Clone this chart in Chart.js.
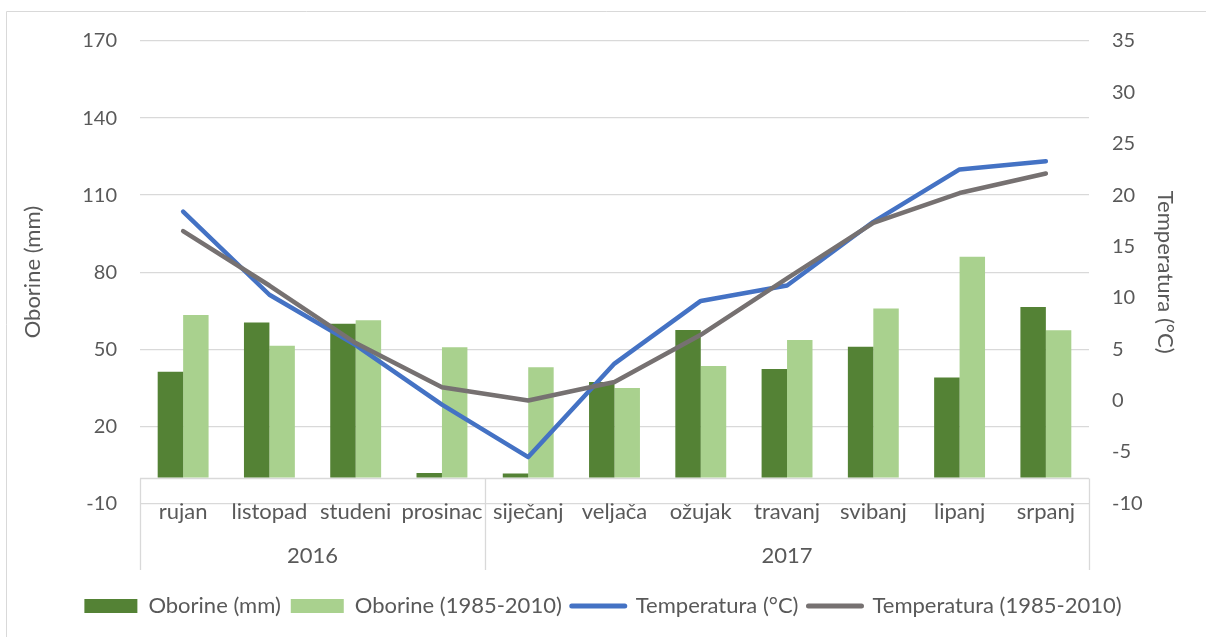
<!DOCTYPE html>
<html><head><meta charset="utf-8">
<script src="https://cdn.jsdelivr.net/npm/chart.js@4"></script>
<style>html,body{margin:0;padding:0;background:#fff;overflow:hidden}#wrap{width:1206px;height:637px;position:relative}</style>
</head><body><div id="wrap"><canvas id="c"></canvas></div>
<script>
const months = ['rujan','listopad','studeni','prosinac','siječanj','veljača','ožujak','travanj','svibanj','lipanj','srpanj'];
const yearLabels = ['2016','2017'];
const yearSpans = [4, 7];
const oborine = [41.2, 60.4, 59.9, 1.8, 1.6, 37.2, 57.5, 42.3, 51.0, 39.0, 66.4];
const oborineAvg = [63.3, 51.3, 61.3, 50.8, 43.0, 34.9, 43.5, 53.6, 65.8, 86.0, 57.4];
const temp = [18.4, 10.3, 5.4, -0.4, -5.5, 3.6, 9.7, 11.2, 17.4, 22.5, 23.3];
const tempAvg = [16.5, 11.2, 5.6, 1.3, 0.0, 1.8, 6.4, 11.9, 17.3, 20.2, 22.1];
const leftAxisRange = [-10, 170, 30];
const rightAxisRange = [-10, 35, 5];

const yearCenters = [];
(function(){ let s = 0; yearSpans.forEach(n => { yearCenters.push(s + (n - 1) / 2); s += n; }); })();

const TXT = '#595959', GRID = '#D9D9D9';
Chart.defaults.font.family = 'Lato';
Chart.defaults.color = TXT;

const catAxisPlugin = {
  id: 'catAxis',
  beforeDraw(chart) {
    const ctx = chart.ctx;
    ctx.save();
    ctx.strokeStyle = GRID; ctx.lineWidth = 1;
    ctx.beginPath(); ctx.moveTo(6.5, chart.height); ctx.lineTo(6.5, 11.5); ctx.lineTo(chart.width, 11.5); ctx.stroke();
    ctx.restore();
  },
  beforeDatasetsDraw(chart) {
    const x = chart.scales.x, y = chart.scales.y, ctx = chart.ctx;
    const y0 = Math.round(y.getPixelForValue(0)) + 0.5;
    const w = x.getPixelForValue(1) - x.getPixelForValue(0);
    ctx.save();
    ctx.strokeStyle = GRID; ctx.lineWidth = 1.3;
    ctx.beginPath();
    ctx.moveTo(chart.chartArea.left, y0); ctx.lineTo(chart.chartArea.right, y0);
    const bounds = [0]; let acc = 0; yearSpans.forEach(n => { acc += n; bounds.push(acc); });
    const yEnd = chart.scales.x2.bottom - 15;
    bounds.forEach(b => {
      const px = Math.round(x.getPixelForValue(b) - w / 2) + 0.5;
      ctx.moveTo(px, y0); ctx.lineTo(px, yEnd);
    });
    ctx.stroke();
    ctx.restore();
  }
};

function start() {
  new Chart(document.getElementById('c'), {
    data: {
      labels: months,
      datasets: [
        { type: 'bar', label: 'Oborine (mm)', data: oborine, backgroundColor: '#548235', yAxisID: 'y', order: 3 },
        { type: 'bar', label: 'Oborine (1985-2010)', data: oborineAvg, backgroundColor: '#A9D18E', yAxisID: 'y', order: 3 },
        { type: 'line', label: 'Temperatura (°C)', data: temp, borderColor: '#4472C4', backgroundColor: '#4472C4', borderWidth: 4.5, pointRadius: 0, tension: 0, borderCapStyle: 'round', borderJoinStyle: 'round', yAxisID: 'y1', order: 1 },
        { type: 'line', label: 'Temperatura (1985-2010)', data: tempAvg, borderColor: '#767171', backgroundColor: '#767171', borderWidth: 4.5, pointRadius: 0, tension: 0, borderCapStyle: 'round', borderJoinStyle: 'round', yAxisID: 'y1', order: 0 }
      ]
    },
    options: {
      responsive: true, maintainAspectRatio: false, animation: false,
      layout: { padding: { top: 41, bottom: 10, left: 0, right: 0 } },
      datasets: { bar: { categoryPercentage: 0.59, barPercentage: 1.0 } },
      plugins: {
        tooltip: { enabled: false },
        legend: {
          position: 'bottom',
          labels: {
            font: { size: 22 }, color: TXT, usePointStyle: true, pointStyleWidth: 53, boxHeight: 14, padding: 10,
            sort: (a, b) => a.datasetIndex - b.datasetIndex,
            generateLabels(chart) {
              const items = Chart.defaults.plugins.legend.labels.generateLabels(chart);
              items.forEach(it => {
                const ds = chart.data.datasets[it.datasetIndex];
                if (ds.type === 'line') { it.pointStyle = 'line'; it.lineWidth = 5; it.lineCap = 'round'; it.strokeStyle = ds.borderColor; }
                else { it.pointStyle = 'rect'; it.lineWidth = 0; }
              });
              return items;
            }
          }
        }
      },
      scales: {
        x: {
          type: 'category', position: 'bottom',
          grid: { display: false, drawTicks: false }, border: { display: false },
          ticks: { font: { size: 22, lineHeight: 0.8 }, padding: 0, autoSkip: false, maxRotation: 0, color: TXT },
          afterFit(s) { s.height = 30; }
        },
        x2: {
          type: 'linear', position: 'bottom', min: -0.5, max: months.length - 0.5,
          grid: { display: false, drawTicks: false }, border: { display: false },
          afterBuildTicks(s) { s.ticks = yearCenters.map(v => ({ value: v })); },
          ticks: { font: { size: 22, lineHeight: 0.8 }, padding: 13.4, autoSkip: false, maxRotation: 0, color: TXT, callback: (v, i) => yearLabels[i] },
          afterFit(s) { s.height = 51.7; }
        },
        y: {
          position: 'left', min: leftAxisRange[0], max: leftAxisRange[1],
          ticks: { stepSize: leftAxisRange[2], font: { size: 20 }, padding: 23, color: TXT },
          grid: { color: GRID, lineWidth: 1.3, drawTicks: false }, border: { display: false },
          title: { display: true, text: 'Oborine (mm)', font: { size: 22 }, color: TXT, padding: { top: 19.8, bottom: 0 } },
          afterFit(s) { s.width = 140; }
        },
        y1: {
          position: 'right', min: rightAxisRange[0], max: rightAxisRange[1],
          ticks: { stepSize: rightAxisRange[2], font: { size: 20 }, padding: 23, color: TXT },
          grid: { display: false, drawTicks: false }, border: { display: false },
          title: { display: true, text: 'Temperatura (°C)', font: { size: 22 }, color: TXT, padding: { top: 27.8, bottom: 0 } },
          afterFit(s) { s.width = 117; }
        }
      }
    },
    plugins: [catAxisPlugin]
  });
}
if (document.fonts && document.fonts.load) {
  Promise.all([document.fonts.load('20px Lato'), document.fonts.load('22px Lato')]).then(start, start);
} else start();
</script>
</body></html>
